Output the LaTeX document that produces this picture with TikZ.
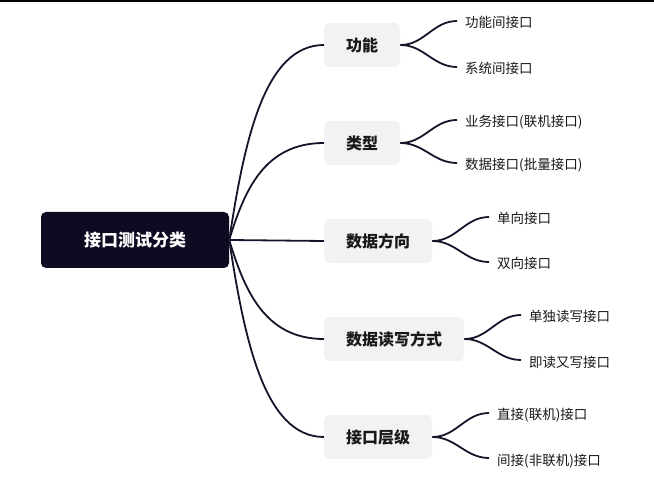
\documentclass[tikz,border=0pt]{standalone}
\usepackage{fontspec}
\setmainfont{Noto Sans CJK SC}
\definecolor{rootfill}{HTML}{0D0B21}
\definecolor{topicfill}{HTML}{F2F2F2}
\definecolor{branchline}{HTML}{16142B}
\begin{document}
\begin{tikzpicture}[x=1pt,y=-1pt,
  rootbox/.style={fill=rootfill,rounded corners=5pt,text=white,font=\fontsize{17}{20}\selectfont\bfseries,minimum width=188pt,minimum height=56pt,inner sep=0pt},
  topicbox/.style={fill=topicfill,rounded corners=6pt,font=\fontsize{16}{19}\selectfont\bfseries,text=black!90,minimum height=44pt,inner xsep=22pt,inner ysep=0pt,anchor=west},
  leaf/.style={font=\fontsize{13.5}{16}\selectfont,text=black!90,anchor=west,inner xsep=8pt,inner ysep=0pt,text height=16pt,text depth=2pt},
  branch/.style={draw=branchline,line width=1.8pt},
]
\useasboundingbox (0,0) rectangle (654,481);
\draw[line width=2pt] (0,1) -- (654,1);

% root and main topics
\node[rootbox] (root) at (135,240) {接口测试分类};
\node[topicbox] (func) at (324,45) {功能};
\node[topicbox] (kind) at (324,143) {类型};
\node[topicbox] (dir) at (324,241) {数据方向};
\node[topicbox] (rw) at (324,339) {数据读写方式};
\node[topicbox] (layer) at (324,437) {接口层级};

% subtopics
\node[leaf] (func1) at (457,21) {功能间接口};
\node[leaf] (func2) at (457,67) {系统间接口};
\node[leaf] (kind1) at (457,120) {业务接口(联机接口)};
\node[leaf] (kind2) at (457,163) {数据接口(批量接口)};
\node[leaf] (dir1) at (489,217) {单向接口};
\node[leaf] (dir2) at (489,262) {双向接口};
\node[leaf] (rw1) at (521,315) {单独读写接口};
\node[leaf] (rw2) at (521,360) {即读又写接口};
\node[leaf] (layer1) at (489,413) {直接(联机)接口};
\node[leaf] (layer2) at (489,458) {间接(非联机)接口};

% branches
\foreach \n/\dy in {func/-98,kind/-49,rw/49,layer/98}
  \draw[branch] (root.east) .. controls +(15,\dy) and +(-60,0) .. (\n.west);
\draw[branch] (root.east) -- (dir.west);

\foreach \n in {func,kind,dir,rw,layer}{
  \draw[branch] (\n.east) to[out=0,in=180] (\n1.west);
  \draw[branch] (\n.east) to[out=0,in=180] (\n2.west);
}
\end{tikzpicture}
\end{document}
